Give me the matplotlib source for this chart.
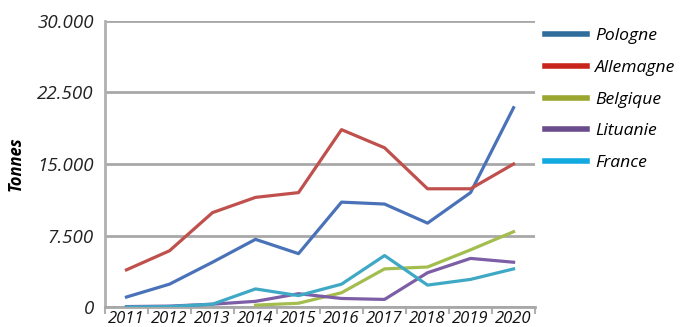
import numpy as np
import matplotlib
matplotlib.use("Agg")
import matplotlib.pyplot as plt
from matplotlib.lines import Line2D
from matplotlib.ticker import FuncFormatter, FixedLocator

years = ["2011", "2012", "2013", "2014", "2015", "2016", "2017", "2018", "2019", "2020"]
pologne = [1050, 2400, 4700, 7100, 5600, 11000, 10800, 8800, 12000, 20900]
allemagne = [3900, 5900, 9900, 11500, 12000, 18600, 16700, 12400, 12400, 15000]
belgique = [np.nan, np.nan, np.nan, 200, 400, 1500, 4000, 4200, 6000, 7900]
lituanie = [50, 100, 300, 600, 1400, 900, 800, 3600, 5100, 4700]
france = [0, 50, 300, 1900, 1200, 2400, 5400, 2300, 2900, 4000]
series_names = ["Pologne", "Allemagne", "Belgique", "Lituanie", "France"]
yticks = [0, 7500, 15000, 22500, 30000]

line_colors = ["#4a72b8", "#c0504d", "#a3be4f", "#7d5ea6", "#3fa9c5"]
legend_colors = ["#2f6e9c", "#c8241c", "#9aa62e", "#6a4c8c", "#12a8e0"]

plt.rcParams['font.family'] = ['Open Sans', 'DejaVu Sans']

fig = plt.figure(figsize=(6.86, 3.27), dpi=100)
ax = fig.add_axes([0.153, 0.061, 0.627, 0.875])

x = np.arange(len(years))
data = [pologne, allemagne, belgique, lituanie, france]
order = [4, 3, 2, 0, 1]
for i in order:
    ax.plot(x, data[i], color=line_colors[i], lw=2.3, zorder=3 + i * 0.1,
            solid_joinstyle='round')

ax.set_xlim(-0.5, len(years) - 0.5)
ax.set_ylim(0, 30000)
ax.set_yticks(yticks)
ax.yaxis.set_major_formatter(FuncFormatter(lambda v, p: f"{int(v):,}".replace(",", ".")))
ax.grid(axis='y', color='#a8a8a8', lw=2)
ax.set_axisbelow(True)
for s in ['top', 'right']:
    ax.spines[s].set_visible(False)
ax.spines['left'].set_color('#b0b0b0')
ax.spines['left'].set_linewidth(2)
ax.spines['bottom'].set_color('#a8a8a8')
ax.spines['bottom'].set_linewidth(2)
ax.tick_params(axis='y', length=0, pad=8, labelsize=13.5, labelcolor='#222222')
ax.set_xticks(x)
ax.set_xticklabels(years)
ax.tick_params(axis='x', length=0, pad=3, labelsize=12, labelcolor='#111111')
for t in ax.get_yticklabels() + ax.get_xticklabels():
    t.set_fontstyle('italic')
ax.xaxis.set_minor_locator(FixedLocator(np.arange(-0.5, len(years), 1.0)))
ax.tick_params(axis='x', which='minor', length=5, width=1.5, color='#b0b0b0', direction='out')

ax.set_ylabel("Tonnes", fontsize=12, fontweight='bold', fontstyle='italic', labelpad=9)

handles = [Line2D([0], [0], color=c, lw=4) for c in legend_colors]
leg = fig.legend(handles, series_names, loc='upper left', bbox_to_anchor=(0.772, 0.962),
                 frameon=False, handlelength=2.4, labelspacing=0.88, handletextpad=0.45,
                 prop={'style': 'italic', 'size': 12.6})

fig.savefig("out.png", dpi=100, facecolor='white')
